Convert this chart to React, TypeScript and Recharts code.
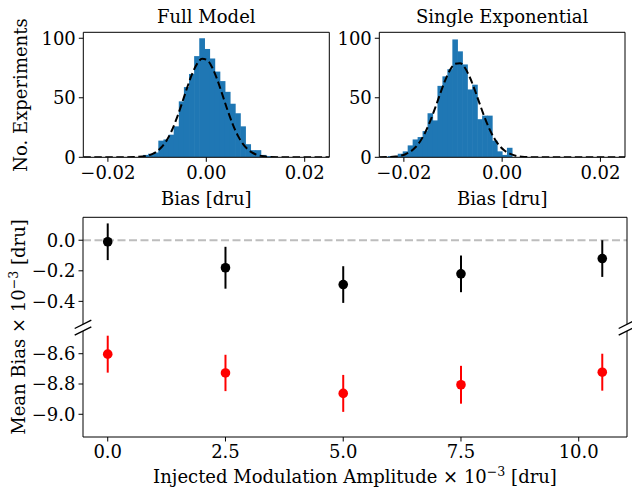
import React from "react";
import {
  ComposedChart,
  ScatterChart,
  Bar,
  Line,
  Scatter,
  ErrorBar,
  XAxis,
  YAxis,
  ReferenceLine,
} from "recharts";

// histogram bins (centres) and counts
const FULL_CENTERS = [
  -0.01228, -0.01124, -0.0102, -0.00916, -0.00812, -0.00708, -0.00604, -0.005,
  -0.00396, -0.00292, -0.00188, -0.00084, 0.0002, 0.00124, 0.00228, 0.00332,
  0.00436, 0.0054, 0.00644, 0.00748, 0.00852, 0.00956, 0.0106, 0.01164, 0.01268,
];
const FULL_COUNTS = [
  2, 3, 4, 14, 15, 19, 26, 47, 59, 70, 85, 100, 91, 83, 72, 64, 55, 45, 37, 26,
  11, 6, 6, 2, 1,
];
const FULL_FIT_X = [-0.025, -0.018, -0.0145, ...FULL_CENTERS, 0.0145, 0.018, 0.025];
const FULL_FIT_Y = [
  0, 0.01, 0.3, 1.1, 2.3, 4.5, 8.2, 13.8, 21.9, 32.4, 44.7, 57.7, 69.6, 78.5,
  82.8, 81.6, 75.1, 64.6, 52, 39.1, 27.5, 18, 11.1, 6.3, 3.4, 1.7, 0.8, 0.35,
  0.1, 0, 0,
];
const FULL_BIN_W = 0.00104;

const SINGLE_CENTERS = [
  -0.0227, -0.02169, -0.02068, -0.01967, -0.01866, -0.01765, -0.01664,
  -0.01563, -0.01462, -0.01361, -0.0126, -0.01159, -0.01058, -0.00957,
  -0.00856, -0.00755, -0.00654, -0.00553, -0.00452, -0.00351, -0.0025,
  -0.00149, -0.00048, 0.00053, 0.00154,
];
const SINGLE_COUNTS = [
  1, 1, 3, 5, 10, 15, 17, 22, 37, 31, 60, 68, 74, 99, 89, 78, 57, 61, 32, 35,
  35, 14, 5, 2, 8,
];
const SINGLE_FIT_X = [-0.025, ...SINGLE_CENTERS, 0.004, 0.007, 0.012, 0.025];
const SINGLE_FIT_Y = [
  0.1, 0.29, 0.64, 1.33, 2.6, 4.8, 8.4, 13.7, 21.1, 30.6, 41.7, 53.6, 64.7,
  73.5, 78.6, 79.1, 75, 66.8, 56.1, 44.3, 32.9, 23, 15.2, 9.4, 5.5, 3.0, 0.5,
  0.05, 0, 0,
];
const SINGLE_BIN_W = 0.00101;

// lower panel: injected amplitude vs mean bias
const AMPLITUDES = [0, 2.5, 5, 7.5, 10.5];
const FULL_MEAN = [-0.01, -0.18, -0.29, -0.22, -0.12];
const FULL_ERR = [0.12, 0.137, 0.12, 0.12, 0.12];
const SINGLE_MEAN = [-8.603, -8.727, -8.862, -8.805, -8.722];
const SINGLE_ERR = [0.122, 0.12, 0.122, 0.125, 0.122];

const HIST_X_TICKS = [-0.02, 0, 0.02];
const HIST_Y_TICKS = [0, 50, 100];
const AMP_TICKS = [0, 2.5, 5, 7.5, 10];
const TOP_TICKS = [-0.4, -0.2, 0];
const BOTTOM_TICKS = [-9, -8.8, -8.6];

const FONT = "DejaVu Serif";
const tickStyle = { fill: "#000", fontSize: 18, fontFamily: FONT };
const minus = (s: string) => s.replace("-", "\u2212");

function histRows(centers: number[], counts: number[], fx: number[], fy: number[]) {
  const rows: any[] = centers.map((c, i) => ({ x: c, count: counts[i] }));
  fx.forEach((x, i) => {
    const r = rows.find((r) => r.x === x);
    if (r) r.fit = fy[i];
    else rows.push({ x, count: null, fit: fy[i] });
  });
  return rows.sort((a, b) => a.x - b.x);
}

function Hist({
  rows,
  binW,
  width,
  yAxisW,
  right,
}: {
  rows: any[];
  binW: number;
  width: number;
  yAxisW: number;
  right: number;
}) {
  const plotW = width - yAxisW - right;
  const binPx = (binW / 0.05) * plotW;
  return (
    <ComposedChart
      width={width}
      height={215}
      data={rows}
      margin={{ top: 32.3, right, bottom: 27.7, left: 0 }}
    >
      <XAxis
        dataKey="x"
        type="number"
        domain={[-0.025, 0.025]}
        ticks={HIST_X_TICKS}
        tickFormatter={(v: number) => minus(v.toFixed(2))}
        allowDataOverflow
        height={30}
        tickSize={4.5}
        tickMargin={4}
        stroke="#000"
        tick={tickStyle}
      />
      <YAxis
        type="number"
        domain={[0, 105]}
        ticks={HIST_Y_TICKS}
        allowDataOverflow
        width={yAxisW}
        tickSize={4.5}
        tickMargin={3}
        stroke="#000"
        tick={tickStyle}
      />
      <Bar
        dataKey="count"
        isAnimationActive={false}
        shape={(p: any) =>
          p.height > 0 ? (
            <rect
              x={p.x + p.width / 2 - binPx / 2 - 0.3}
              y={p.y}
              width={binPx + 0.6}
              height={p.height}
              fill="#1f77b4"
            />
          ) : (
            <g />
          )
        }
      />
      <Line
        dataKey="fit"
        type="monotone"
        stroke="#000"
        strokeWidth={2}
        strokeDasharray="7.5 3.5"
        dot={false}
        isAnimationActive={false}
      />
      <ReferenceLine y={105} stroke="#000" />
      <ReferenceLine x={0.025} stroke="#000" />
    </ComposedChart>
  );
}

const dot = (color: string) => (p: any) =>
  <circle cx={p.cx} cy={p.cy} r={4.8} fill={color} />;

export default function App() {
  const fullRows = histRows(FULL_CENTERS, FULL_COUNTS, FULL_FIT_X, FULL_FIT_Y);
  const singleRows = histRows(SINGLE_CENTERS, SINGLE_COUNTS, SINGLE_FIT_X, SINGLE_FIT_Y);
  const topPts = AMPLITUDES.map((x, i) => ({ x, y: FULL_MEAN[i], err: FULL_ERR[i] }));
  const botPts = AMPLITUDES.map((x, i) => ({ x, y: SINGLE_MEAN[i], err: SINGLE_ERR[i] }));

  const label = (cx: number, cy: number, rotate = false): React.CSSProperties => ({
    position: "absolute",
    left: cx,
    top: cy,
    transform: `translate(-50%, -50%)${rotate ? " rotate(-90deg)" : ""}`,
    whiteSpace: "nowrap",
    fontSize: 18,
    lineHeight: 1,
    color: "#000",
  });
  const sup = { fontSize: "0.7em", verticalAlign: "0.5em" };

  return (
    <div
      style={{
        position: "absolute",
        left: 0,
        top: 0,
        width: 632,
        height: 494,
        background: "#fff",
        fontFamily: FONT,
        overflow: "hidden",
      }}
    >
      <div style={{ position: "absolute", left: 0, top: 0 }}>
        <Hist rows={fullRows} binW={FULL_BIN_W} width={335} yAxisW={83.3} right={5.7} />
      </div>
      <div style={{ position: "absolute", left: 335, top: 0 }}>
        <Hist rows={singleRows} binW={SINGLE_BIN_W} width={297} yAxisW={44.3} right={7} />
      </div>

      {/* upper half of the broken axis */}
      <div style={{ position: "absolute", left: 0, top: 200 }}>
        <ScatterChart width={632} height={130} margin={{ top: 17.3, right: 5, bottom: 5.7, left: 0 }}>
          <XAxis dataKey="x" type="number" domain={[-0.525, 11.025]} hide />
          <YAxis
            dataKey="y"
            type="number"
            domain={[-0.55, 0.15]}
            ticks={TOP_TICKS}
            tickFormatter={(v: number) => minus(v.toFixed(1))}
            allowDataOverflow
            width={83}
            tickSize={4.5}
            tickMargin={3}
            stroke="#000"
            tick={tickStyle}
          />
          <ReferenceLine y={0} stroke="#bdbdbd" strokeWidth={2} strokeDasharray="8 3.5" />
          <ReferenceLine y={0.15} stroke="#000" />
          <ReferenceLine x={11.025} stroke="#000" />
          <Scatter data={topPts} isAnimationActive={false} shape={dot("#000")}>
            <ErrorBar dataKey="err" direction="y" width={0} stroke="#000" strokeWidth={2} />
          </Scatter>
        </ScatterChart>
      </div>

      {/* lower half of the broken axis */}
      <div style={{ position: "absolute", left: 0, top: 325 }}>
        <ScatterChart width={632} height={169} margin={{ top: 6, right: 5, bottom: 27, left: 0 }}>
          <XAxis
            dataKey="x"
            type="number"
            domain={[-0.525, 11.025]}
            ticks={AMP_TICKS}
            tickFormatter={(v: number) => v.toFixed(1)}
            allowDataOverflow
            height={30}
            tickSize={4.5}
            tickMargin={4}
            stroke="#000"
            tick={tickStyle}
          />
          <YAxis
            dataKey="y"
            type="number"
            domain={[-9.15, -8.45]}
            ticks={BOTTOM_TICKS}
            tickFormatter={(v: number) => minus(v.toFixed(1))}
            allowDataOverflow
            width={83}
            tickSize={4.5}
            tickMargin={3}
            stroke="#000"
            tick={tickStyle}
          />
          <ReferenceLine x={11.025} stroke="#000" />
          <Scatter data={botPts} isAnimationActive={false} shape={dot("#ff0000")}>
            <ErrorBar dataKey="err" direction="y" width={0} stroke="#ff0000" strokeWidth={2} />
          </Scatter>
        </ScatterChart>
      </div>

      {/* break marks */}
      <svg
        width={632}
        height={494}
        style={{ position: "absolute", left: 0, top: 0, pointerEvents: "none" }}
      >
        {[83, 627].map((x) =>
          [324.3, 331].map((y) => (
            <line
              key={`${x}-${y}`}
              x1={x - 8.3}
              y1={y + 4.2}
              x2={x + 8.3}
              y2={y - 4.2}
              stroke="#000"
              strokeWidth={1.4}
            />
          ))
        )}
      </svg>

      <div style={label(206.3, 17)}>Full Model</div>
      <div style={label(502.2, 17)}>Single Exponential</div>
      <div style={label(206.3, 199)}>Bias [dru]</div>
      <div style={label(502.2, 199)}>Bias [dru]</div>
      <div style={label(21, 95, true)}>No. Experiments</div>
      <div style={label(18, 327, true)}>
        Mean Bias × 10<span style={sup}>−3</span> [dru]
      </div>
      <div style={label(355, 476)}>
        Injected Modulation Amplitude × 10<span style={sup}>−3</span> [dru]
      </div>
    </div>
  );
}
